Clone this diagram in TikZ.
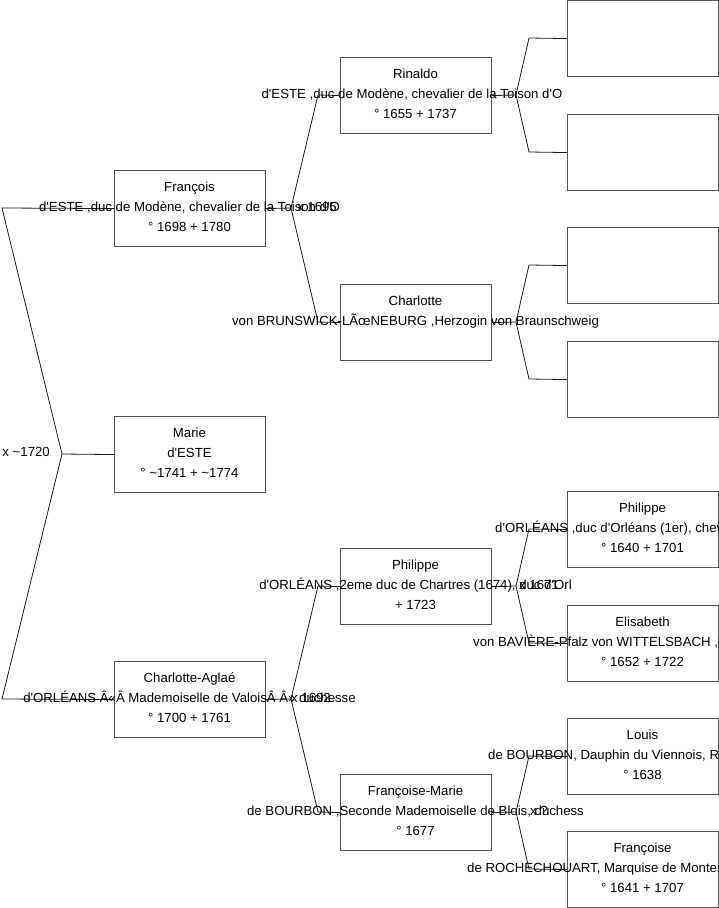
\documentclass[tikz,border=0pt]{standalone}
\usepackage{fontspec}
\setmainfont{Liberation Sans}[Ligatures=TeXOff]
\usetikzlibrary{positioning}
\definecolor{frame}{HTML}{555555}
\definecolor{wire}{HTML}{1A1A1A}

\begin{document}
\begin{tikzpicture}[
  x=1pt, y=-1pt,
  box/.style={draw=frame, line width=1.1pt, minimum width=151pt, minimum height=76pt, inner sep=0pt, anchor=north west},
  txt/.style={font=\fontsize{13.2}{15}\selectfont, anchor=base, inner sep=0pt},
  wed/.style={txt, anchor=base west},
  link/.style={draw=wire, line width=0.8pt},
]
\useasboundingbox (0,0) rectangle (719,908);
\begin{scope}
\clip (0,0) rectangle (719,908);

% ===== Column 0 =====
\node[box] (fra) at (114,170) {};
\node[txt] (fraA) at (189.5,191) {François};
\node[txt] (fraB) at (189.5,211) {d'ESTE ,duc de Modène, chevalier de la Toison d'O};
\node[txt] (fraC) at (189.5,231) {° 1698 + 1780};

\node[box] (mar) at (114,416) {};
\node[txt] (marA) at (189.5,437) {Marie};
\node[txt] (marB) at (189.5,457) {d'ESTE};
\node[txt] (marC) at (189.5,477) {° \textasciitilde1741 + \textasciitilde1774};

\node[box] (cha) at (114,661) {};
\node[txt] (chaA) at (189.5,682) {Charlotte-Aglaé};
\node[txt] (chaB) at (189.5,702) {d'ORLÉANS Â«Â~Mademoiselle de ValoisÂ~Â» duchesse};
\node[txt] (chaC) at (189.5,722) {° 1700 + 1761};

% ===== Column 1 =====
\node[box] (rin) at (340,57) {};
\node[txt] (rinA) at (415.5,78) {Rinaldo};
\node[txt] (rinB) at (412,98) {d'ESTE ,duc de Modène, chevalier de la Toison d'O};
\node[txt] (rinC) at (415.5,118) {° 1655 + 1737};

\node[box] (chl) at (340,284) {};
\node[txt] (chlA) at (415.5,305) {Charlotte};
\node[txt] (chlB) at (415.5,325) {von BRUNSWICK-LÃœNEBURG ,Herzogin von Braunschweig};

\node[box] (phi) at (340,548) {};
\node[txt] (phiA) at (415.5,569) {Philippe};
\node[txt] (phiB) at (415.5,589) {d'ORLÉANS ,2eme duc de Chartres (1674), duc d'Orl};
\node[txt] (phiC) at (415.5,609) {+ 1723};

\node[box] (frm) at (340,774) {};
\node[txt] (frmA) at (415.5,795) {Françoise-Marie};
\node[txt] (frmB) at (415.5,815) {de BOURBON ,Seconde Mademoiselle de Blois, duchess};
\node[txt] (frmC) at (415.5,835) {° 1677};

% ===== Column 2 =====
\node[box] (emA) at (567,0) {};
\node[box] (emB) at (567,114) {};
\node[box] (emC) at (567,227) {};
\node[box] (emD) at (567,341) {};

\node[box] (phd) at (567,491) {};
\node[txt] (phdA) at (642.5,512) {Philippe};
\node[txt, anchor=base west] (phdB) at (495,532) {d'ORLÉANS ,duc d'Orléans (1er), chevalier};
\node[txt] (phdC) at (642.5,552) {° 1640 + 1701};

\node[box] (eli) at (567,605) {};
\node[txt] (eliA) at (642.5,626) {Elisabeth};
\node[txt, anchor=base west] (eliB) at (473,646) {von BAVIÈRE-Pfalz von WITTELSBACH ,Prin};
\node[txt] (eliC) at (642.5,666) {° 1652 + 1722};

\node[box] (lou) at (567,718) {};
\node[txt] (louA) at (642.5,739) {Louis};
\node[txt, anchor=base west] (louB) at (488,759) {de BOURBON, Dauphin du Viennois, Roi};
\node[txt] (louC) at (642.5,779) {° 1638};

\node[box] (fco) at (567,831) {};
\node[txt] (fcoA) at (642.5,852) {Françoise};
\node[txt, anchor=base west] (fcoB) at (467,872) {de ROCHECHOUART, Marquise de Montesp};
\node[txt] (fcoC) at (642.5,892) {° 1641 + 1707};

% ===== Links =====
% Marie
\coordinate (fkM) at (62,454);
\coordinate (tpM1) at (2,208);
\coordinate (tpM2) at (2,699);
\draw[link] (fra.west) -- (tpM1) -- (fkM) -- (tpM2) -- (cha.west);
\draw[link] (fkM) -- (mar.west);
\node[txt, anchor=base east] (wdM) at (50,456) {x \textasciitilde1720};

% François
\coordinate (fkF) at (291,208);
\coordinate (tpF1) at (318,95);
\coordinate (tpF2) at (318,322);
\draw[link] (rin.west) -- (tpF1) -- (fkF) -- (tpF2) -- (chl.west);
\draw[link] (fra.east) -- (fkF);
\node[wed] (wdF) at (297,211) {x 1695};

% Charlotte-Aglaé
\coordinate (fkC) at (291,699);
\coordinate (tpC1) at (318,586);
\coordinate (tpC2) at (318,812);
\draw[link] (phi.west) -- (tpC1) -- (fkC) -- (tpC2) -- (frm.west);
\draw[link] (cha.east) -- (fkC);
\node[wed] (wdC) at (291,702) {x 1692};

% Rinaldo
\coordinate (fkR) at (516,95);
\coordinate (tpR1) at (529,38);
\coordinate (tpR2) at (529,152);
\draw[link] (emA.west) -- (tpR1) -- (fkR) -- (tpR2) -- (emB.west);
\draw[link] (rin.east) -- (fkR);

% Charlotte
\coordinate (fkL) at (516,322);
\coordinate (tpL1) at (529,265);
\coordinate (tpL2) at (529,379);
\draw[link] (emC.west) -- (tpL1) -- (fkL) -- (tpL2) -- (emD.west);
\draw[link] (chl.east) -- (fkL);

% Philippe
\coordinate (fkP) at (516,586);
\coordinate (tpP1) at (529,529);
\coordinate (tpP2) at (529,643);
\draw[link] (phd.west) -- (tpP1) -- (fkP) -- (tpP2) -- (eli.west);
\draw[link] (phi.east) -- (fkP);
\node[wed] (wdP) at (519,589) {x 1671};

% Françoise-Marie
\coordinate (fkB) at (516,812);
\coordinate (tpB1) at (529,756);
\coordinate (tpB2) at (529,869);
\draw[link] (lou.west) -- (tpB1) -- (fkB) -- (tpB2) -- (fco.west);
\draw[link] (frm.east) -- (fkB);
\node[wed] (wdB) at (530,815) {x ?};

\end{scope}
\end{tikzpicture}
\end{document}
